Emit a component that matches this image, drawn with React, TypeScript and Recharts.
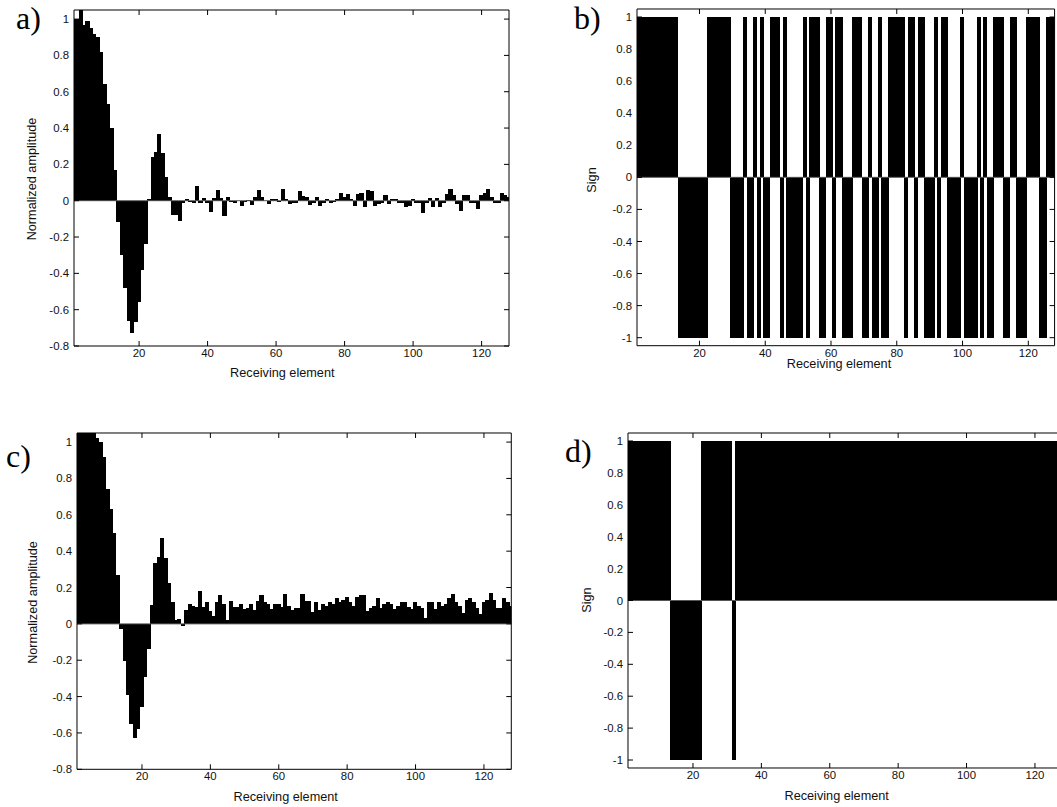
import React from 'react';
import { ComposedChart, Bar, XAxis, YAxis, ReferenceLine } from 'recharts';

// Receiving element index (categories)
const elements = Array.from({ length: 128 }, (_, i) => i + 1);

// a) normalized amplitude
const ampA = [
  1.0, 1.0, 1.08, 0.97, 0.99, 0.95, 0.92, 0.9, 0.82, 0.64, 0.53, 0.4, 0.17, -0.12, -0.3, -0.48,
  -0.66, -0.73, -0.67, -0.56, -0.38, -0.24, 0.01, 0.24, 0.27, 0.37, 0.26, 0.13, 0.02, -0.08, -0.08, -0.11,
  -0.01, 0.01, -0.005, -0.01, 0.08, -0.01, 0.013, -0.013, -0.06, 0.013, 0.06, 0.013, -0.085, 0.018, -0.005, -0.01,
  -0.003, -0.03, -0.005, 0.005, -0.025, 0.018, 0.06, 0.018, -0.003, -0.02, 0.01, 0.01, -0.005, 0.065, 0.008, -0.02,
  -0.015, -0.01, 0.055, 0.025, 0.02, -0.025, -0.015, 0.02, -0.03, -0.01, 0.01, -0.01, -0.005, 0.01, 0.045, 0.02,
  0.035, 0.01, -0.03, 0.035, 0.04, -0.035, 0.06, 0.055, -0.03, -0.02, -0.01, 0.03, -0.02, 0.01, 0.012, -0.01,
  -0.01, -0.035, -0.03, 0.012, -0.01, -0.01, -0.07, -0.01, 0.015, -0.035, 0.015, -0.035, -0.015, 0.035, 0.065, 0.03,
  -0.02, -0.055, 0.03, 0.03, -0.015, -0.01, -0.045, 0.03, 0.04, 0.065, 0.02, -0.01, -0.01, 0.045, 0.03, 0.02,
];

// b) sign of a)
const signB = [
  1, 1, 1, 1, 1, 1, 1, 1, 1, 1, 1, 1, 1, -1, -1, -1,
  -1, -1, -1, -1, -1, -1, 1, 1, 1, 1, 1, 1, 1, -1, -1, -1,
  -1, 1, -1, -1, 1, -1, 1, -1, -1, 1, 1, 1, -1, 1, -1, -1,
  -1, -1, -1, 1, -1, 1, 1, 1, -1, -1, 1, 1, -1, 1, 1, -1,
  -1, -1, 1, 1, 1, -1, -1, 1, -1, -1, 1, -1, -1, 1, 1, 1,
  1, 1, -1, 1, 1, -1, 1, 1, -1, -1, -1, 1, -1, 1, 1, -1,
  -1, -1, -1, 1, -1, -1, -1, -1, 1, -1, 1, -1, -1, 1, 1, 1,
  -1, -1, 1, 1, -1, -1, -1, 1, 1, 1, 1, -1, -1, 1, 1, 1,
];

// c) normalized amplitude
const ampC = [
  1.1, 1.1, 1.1, 1.1, 1.1, 1.07, 1.02, 1.0, 0.92, 0.74, 0.63, 0.5, 0.27, -0.03, -0.205, -0.39,
  -0.55, -0.63, -0.58, -0.46, -0.29, -0.14, 0.105, 0.336, 0.37, 0.47, 0.36, 0.225, 0.12, 0.02, 0.027, -0.01,
  0.077, 0.11, 0.1, 0.095, 0.18, 0.095, 0.12, 0.07, 0.046, 0.12, 0.16, 0.11, 0.022, 0.125, 0.095, 0.095,
  0.11, 0.08, 0.09, 0.11, 0.077, 0.125, 0.16, 0.12, 0.11, 0.083, 0.11, 0.11, 0.095, 0.165, 0.1, 0.075,
  0.085, 0.085, 0.165, 0.125, 0.125, 0.065, 0.12, 0.075, 0.11, 0.1, 0.12, 0.11, 0.14, 0.12, 0.13, 0.15,
  0.12, 0.1, 0.15, 0.16, 0.16, 0.07, 0.085, 0.1, 0.14, 0.09, 0.11, 0.12, 0.11, 0.08, 0.1, 0.12,
  0.12, 0.095, 0.08, 0.12, 0.1, 0.09, 0.03, 0.12, 0.12, 0.08, 0.12, 0.1, 0.11, 0.14, 0.165, 0.12,
  0.1, 0.06, 0.13, 0.14, 0.12, 0.09, 0.055, 0.12, 0.13, 0.17, 0.13, 0.09, 0.09, 0.14, 0.12, 0.1,
];

// d) sign of c)
const signD = [
  1, 1, 1, 1, 1, 1, 1, 1, 1, 1, 1, 1, 1, -1, -1, -1,
  -1, -1, -1, -1, -1, -1, 1, 1, 1, 1, 1, 1, 1, 1, 1, -1,
  1, 1, 1, 1, 1, 1, 1, 1, 1, 1, 1, 1, 1, 1, 1, 1,
  1, 1, 1, 1, 1, 1, 1, 1, 1, 1, 1, 1, 1, 1, 1, 1,
  1, 1, 1, 1, 1, 1, 1, 1, 1, 1, 1, 1, 1, 1, 1, 1,
  1, 1, 1, 1, 1, 1, 1, 1, 1, 1, 1, 1, 1, 1, 1, 1,
  1, 1, 1, 1, 1, 1, 1, 1, 1, 1, 1, 1, 1, 1, 1, 1,
  1, 1, 1, 1, 1, 1, 1, 1, 1, 1, 1, 1, 1, 1, 1, 1,
];

const xTicks = [20, 40, 60, 80, 100, 120];
const ampTicks = [-0.8, -0.6, -0.4, -0.2, 0, 0.2, 0.4, 0.6, 0.8, 1];
const signTicks = [-1, -0.8, -0.6, -0.4, -0.2, 0, 0.2, 0.4, 0.6, 0.8, 1];

const SANS = '"Liberation Sans", Arial, sans-serif';
const SERIF = '"Liberation Serif", "Times New Roman", serif';

type PanelProps = {
  values: number[];
  left: number;
  top: number;
  right: number;
  bottom: number;
  yDomain: [number, number];
  yTicks: number[];
};

function Panel({ values, left, top, right, bottom, yDomain, yTicks }: PanelProps) {
  const padL = 70, padT = 10, padR = 10, padB = 40;
  const yW = 60, rW = 5, tH = 5, bH = 30;
  const width = right - left + padL + padR;
  const height = bottom - top + padT + padB;
  const data = elements.map((x, i) => ({ x, v: values[i] }));
  const tickStyle = { fontSize: 11.4, fill: '#111', fontFamily: SANS };
  const blank = () => '';
  // pixel width of one element step; bars drawn a bit wider so neighbours merge without seams
  const stepPx = (right - left) / 127;
  const BarShape = (props: any) => {
    const { x, y, width: w, height: h } = props;
    if (x == null || y == null) return <g />;
    const cx = x + (w || 0) / 2;
    const bw = stepPx + 0.7;
    const y0 = Math.min(y, y + h);
    const hh = Math.abs(h);
    return (
      <rect
        x={cx - bw / 2}
        y={y0}
        width={bw}
        height={hh}
        fill="#000"
        shapeRendering="crispEdges"
      />
    );
  };
  return (
    <div style={{ position: 'absolute', left: left - padL, top: top - padT, width, height }}>
      <ComposedChart
        width={width}
        height={height}
        data={data}
        margin={{ top: padT - tH, left: padL - yW, right: padR - rW, bottom: padB - bH }}
        barCategoryGap={0}
        barGap={0}
      >
        <XAxis
          xAxisId="b"
          dataKey="x"
          type="number"
          domain={[1, 128]}
          allowDataOverflow
          ticks={xTicks}
          interval={0}
          height={bH}
          tickSize={-5}
          tickMargin={8}
          stroke="#000"
          tick={tickStyle}
        />
        <XAxis
          xAxisId="t"
          orientation="top"
          dataKey="x"
          type="number"
          domain={[1, 128]}
          allowDataOverflow
          ticks={xTicks}
          interval={0}
          height={tH}
          tickSize={-5}
          tickFormatter={blank}
          stroke="#000"
        />
        <YAxis
          yAxisId="l"
          type="number"
          domain={yDomain}
          allowDataOverflow
          ticks={yTicks}
          interval={0}
          width={yW}
          tickSize={-5}
          tickMargin={10}
          stroke="#000"
          tick={tickStyle}
        />
        <YAxis
          yAxisId="r"
          orientation="right"
          type="number"
          domain={yDomain}
          allowDataOverflow
          ticks={yTicks}
          interval={0}
          width={rW}
          tickSize={-5}
          tickFormatter={blank}
          stroke="#000"
        />
        <Bar
          xAxisId="b"
          yAxisId="l"
          dataKey="v"
          fill="#000"
          shape={BarShape}
          isAnimationActive={false}
        />
        <ReferenceLine xAxisId="b" yAxisId="l" y={0} stroke="#555" strokeWidth={1} />
      </ComposedChart>
    </div>
  );
}

export default function App() {
  const labelStyle = { fontFamily: SANS, fontSize: 12.7, fill: '#111' };
  const letterStyle = { fontFamily: SERIF, fontSize: 32, fill: '#000' };
  return (
    <div
      style={{
        position: 'absolute',
        left: 0,
        top: 0,
        width: 1057,
        height: 807,
        overflow: 'hidden',
        background: '#fff',
      }}
    >
      <Panel values={ampA} left={74} top={10} right={509} bottom={346} yDomain={[-0.8, 1.05]} yTicks={ampTicks} />
      <Panel values={signB} left={636.7} top={9.3} right={1054.3} bottom={346} yDomain={[-1.05, 1.05]} yTicks={signTicks} />
      <Panel values={ampC} left={76.7} top={432.7} right={511} bottom={769} yDomain={[-0.8, 1.05]} yTicks={ampTicks} />
      <Panel values={signD} left={627.7} top={432.7} right={1062} bottom={767.7} yDomain={[-1.05, 1.05]} yTicks={signTicks} />
      <svg
        width={1057}
        height={807}
        style={{ position: 'absolute', left: 0, top: 0, pointerEvents: 'none' }}
      >
        <text x={16} y={29.3} style={letterStyle}>a)</text>
        <text x={574} y={29.3} style={letterStyle}>b)</text>
        <text x={6} y={466.7} style={letterStyle}>c)</text>
        <text x={565} y={461.7} style={letterStyle}>d)</text>

        <text x={32} y={179} textAnchor="middle" dominantBaseline="central" transform="rotate(-90 32 179)" style={labelStyle}>Normalized amplitude</text>
        <text x={33.3} y={602.5} textAnchor="middle" dominantBaseline="central" transform="rotate(-90 33.3 602.5)" style={labelStyle}>Normalized amplitude</text>
        <text x={592.3} y={180} textAnchor="middle" dominantBaseline="central" transform="rotate(-90 592.3 180)" style={labelStyle}>Sign</text>
        <text x={586.7} y={600} textAnchor="middle" dominantBaseline="central" transform="rotate(-90 586.7 600)" style={labelStyle}>Sign</text>

        <text x={282.3} y={373} textAnchor="middle" dominantBaseline="central" style={labelStyle}>Receiving element</text>
        <text x={839} y={364} textAnchor="middle" dominantBaseline="central" style={labelStyle}>Receiving element</text>
        <text x={285.7} y={796.7} textAnchor="middle" dominantBaseline="central" style={labelStyle}>Receiving element</text>
        <text x={836.7} y={795.7} textAnchor="middle" dominantBaseline="central" style={labelStyle}>Receiving element</text>
      </svg>
    </div>
  );
}
